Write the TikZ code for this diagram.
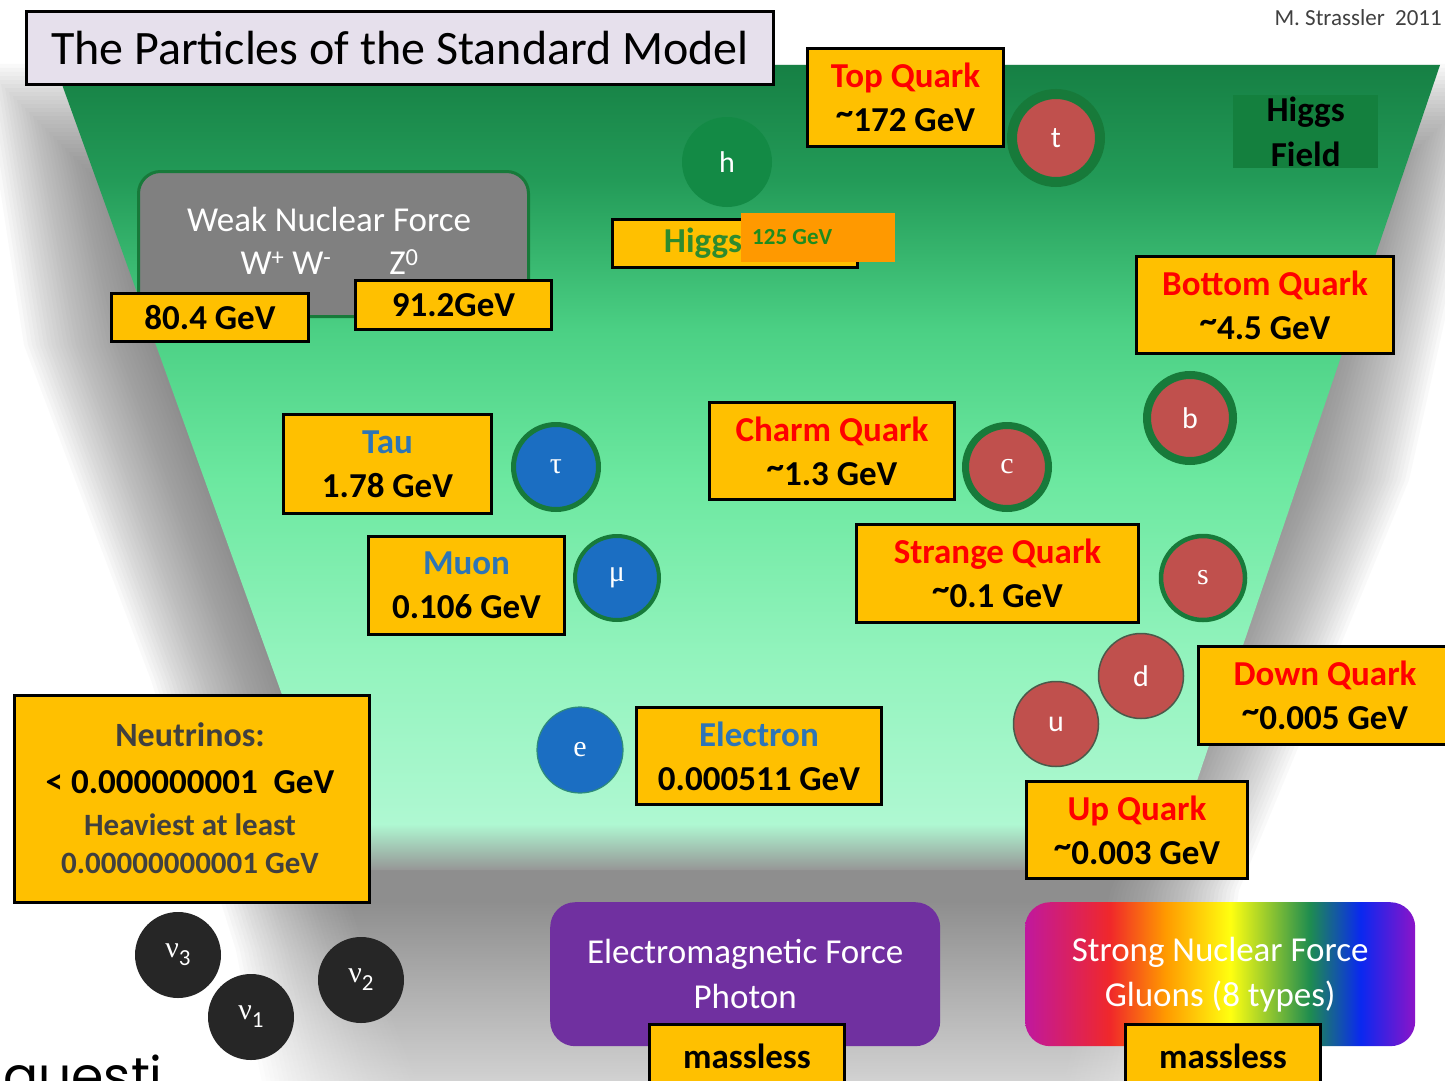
\documentclass[tikz,border=0pt]{standalone}
\usepackage{fontspec}
\setmainfont{Carlito}
\newfontfamily\serifp{Liberation Serif}
\newfontfamily\gothic{Poppins}
\usetikzlibrary{fadings}
\definecolor{boxyellow}{HTML}{FFC000}
\definecolor{qred}{HTML}{FF0000}
\definecolor{lepblue}{HTML}{2E75B6}
\definecolor{higgstxt}{HTML}{2E8B2E}
\definecolor{gevgreen}{HTML}{1E8C1E}
\definecolor{orangebox}{HTML}{FF9900}
\definecolor{qkred}{HTML}{C0504D}
\definecolor{ringgreen}{HTML}{177A3A}
\definecolor{lepfill}{HTML}{1B6EC2}
\definecolor{hfill}{HTML}{138A45}
\definecolor{hfgreen}{HTML}{14803E}
\definecolor{nufill}{HTML}{262626}
\definecolor{empurple}{HTML}{7030A0}
\definecolor{weakgray}{HTML}{808080}
\definecolor{titlefill}{HTML}{E6E0EC}
\definecolor{darktxt}{HTML}{404040}
\definecolor{shadowc}{HTML}{6A6A6A}
\definecolor{thinedge}{HTML}{4A5A4A}
\definecolor{eedge}{HTML}{2E8B7A}
\definecolor{gT}{RGB}{22,128,68}
\definecolor{g180}{RGB}{35,155,88}
\definecolor{g330}{RGB}{75,208,132}
\definecolor{g480}{RGB}{108,232,160}
\definecolor{g650}{RGB}{145,243,188}
\definecolor{gB}{RGB}{175,248,210}
\definecolor{grayband}{RGB}{150,150,150}
\definecolor{rbA}{HTML}{C0189E}
\definecolor{rbRed}{HTML}{F0282A}
\definecolor{rbOrange}{HTML}{FF9A00}
\definecolor{rbYellow}{HTML}{FFFF10}
\definecolor{rbGreen}{HTML}{1E8C50}
\definecolor{rbBlue}{HTML}{0A28F0}
\definecolor{rbPurple}{HTML}{8C14C8}
\pgfdeclareverticalshading{greenbg}{100bp}{color(0bp)=(gB); color(25bp)=(gB); color(36.5bp)=(g650); color(47.7bp)=(g480); color(57.6bp)=(g330); color(67.4bp)=(g180); color(75bp)=(gT); color(100bp)=(gT)}
\pgfdeclarehorizontalshading{rainbowsh}{100bp}{color(0bp)=(rbA); color(25bp)=(rbA); color(35.9bp)=(rbRed); color(43bp)=(rbOrange); color(51.3bp)=(rbYellow); color(61.5bp)=(rbGreen); color(68bp)=(rbBlue); color(75bp)=(rbPurple); color(100bp)=(rbPurple)}
\tikzfading[name=fadedown, top color=transparent!100, bottom color=transparent!40]
\newcommand{\tld}{\raisebox{7pt}{\textasciitilde}}
\newcommand{\nusub}[1]{ν\raisebox{-8pt}{\rmfamily\fontsize{23}{23}\selectfont #1}}
\tikzset{
  ybox/.style={draw=black, line width=3pt, fill=boxyellow, inner sep=0pt, align=center, anchor=north west, font=\bfseries\fontsize{35}{44}\selectfont},
  quark/.style={circle, fill=qkred, draw=ringgreen, inner sep=0pt, text=white, font=\fontsize{30}{30}\selectfont},
  lepton/.style={circle, fill=lepfill, draw=ringgreen, inner sep=0pt, text=white, font=\serifp\fontsize{30}{30}\selectfont},
  nu/.style={circle, fill=nufill, minimum size=86, inner sep=0pt, text=white, font=\serifp\fontsize{30}{30}\selectfont},
  forcebox/.style={rounded corners=25pt, minimum width=390, minimum height=144, anchor=north west, align=center, text=white, inner sep=0pt, font=\fontsize{35}{45}\selectfont},
  nutext/.style={anchor=base, inner sep=0pt, font=\bfseries\fontsize{#1}{#1}\selectfont},
}
\begin{document}
\begin{tikzpicture}[x=1pt,y=-1pt]
\useasboundingbox (0,0) rectangle (1445,1081);
\fill[white] (0,0) rectangle (1445,1081);
% soft shadow
\foreach \o in {-64,-60,...,64} {
  \fill[shadowc, opacity=0.036] ({45-\o},{128-\o}) -- ({1438+\o},{128-\o}) -- ({1345+\o},480) -- ({1175+\o},890) -- ({1130+\o},{1140+\o}) -- ({350-\o},{1140+\o}) -- ({300-\o},950) -- ({215-\o},680) -- ({88-\o},345) -- cycle;
}
% green field
\shade[shading=greenbg] (55,65) -- (1440,65) -- (1182,825) -- (329,825) -- cycle;
\shade[top color=gB, bottom color=grayband] (329,824) -- (1182,824) -- (1167,870) -- (345,870) -- cycle;
\fill[white, path fading=fadedown] (0,900) rectangle (1445,1081);

% title and author
\node[draw=black, line width=3pt, fill=titlefill, minimum width=747, minimum height=73, anchor=north west, inner sep=0pt, font=\fontsize{48}{48}\selectfont] (title) at (25,10) {The Particles of the Standard Model};
\node[anchor=north east, inner sep=0pt, text=darktxt, font=\fontsize{23}{23}\selectfont] (author) at (1442,9) {M. Strassler\ \ 2011};

% Higgs field
\node[fill=hfgreen, minimum width=145, minimum height=73, anchor=north west, inner sep=0pt, align=center, font=\bfseries\fontsize{35}{45}\selectfont] (hfield) at (1233,95) {Higgs\\Field};

% weak force
\node[draw=ringgreen, line width=3pt, fill=weakgray, rounded corners=22pt, minimum width=390, minimum height=145, anchor=north west, inner sep=0pt] (weak) at (137,170) {};
\node[text=white, inner sep=0pt, font=\fontsize{35}{35}\selectfont] (weakname) at (329,219) {Weak Nuclear Force};
\node[text=white, inner sep=0pt, font=\fontsize{35}{35}\selectfont] (wpm) at (286,263) {W\textsuperscript{+} W\textsuperscript{-}};
\node[text=white, inner sep=0pt, font=\fontsize{35}{35}\selectfont] (zzero) at (404,262) {Z\textsuperscript{0}};
\node[ybox, minimum width=197, minimum height=48] (wmass) at (110,292) {80.4 GeV};
\node[ybox, minimum width=196, minimum height=49] (zmass) at (354,279) {91.2GeV};

% Higgs boson
\node[circle, fill=hfill, minimum size=90, inner sep=0pt, text=white, font=\fontsize{30}{30}\selectfont] (h) at (727,162) {h};
\node[ybox, minimum width=245, minimum height=48] (higgsbox) at (611,218) {};
\node[inner sep=0pt, text=higgstxt, font=\bfseries\fontsize{35}{35}\selectfont] (higgsname) at (703,243) {Higgs};
\node[fill=orangebox, minimum width=154, minimum height=49, anchor=north west, inner sep=0pt] (higgsmassbg) at (741,213) {};
\node[anchor=west, inner sep=0pt, text=gevgreen, font=\bfseries\fontsize{23}{23}\selectfont] (higgsmass) at (752,237) {125 GeV};

% quarks
\node[ybox, minimum width=196, minimum height=98] (topbox) at (806,47) {\textcolor{qred}{Top Quark}\\\tld172 GeV};
\node[quark, minimum size=88, line width=10pt] (t) at (1056,138) {t};
\node[ybox, minimum width=257, minimum height=97] (bottombox) at (1135,255) {\textcolor{qred}{Bottom Quark}\\\tld4.5 GeV};
\node[quark, minimum size=86, line width=8pt] (b) at (1190,418) {b};
\node[ybox, minimum width=245, minimum height=97] (charmbox) at (708,401) {\textcolor{qred}{Charm Quark}\\\tld1.3 GeV};
\node[quark, minimum size=83, line width=7pt, font=\serifp\fontsize{30}{30}\selectfont] (c) at (1007,467) {c};
\node[ybox, minimum width=282, minimum height=98] (strangebox) at (855,523) {\textcolor{qred}{Strange Quark}\\\tld0.1 GeV};
\node[quark, minimum size=84, line width=4.5pt, font=\serifp\fontsize{30}{30}\selectfont] (s) at (1203,578) {s};
\node[ybox, minimum width=253, minimum height=98] (downbox) at (1197,645) {\textcolor{qred}{Down Quark}\\\tld0.005 GeV};
\node[quark, draw=thinedge, minimum size=85, line width=1.5pt] (d) at (1141,676) {d};
\node[quark, draw=thinedge, minimum size=85, line width=1.5pt] (u) at (1056,724) {u};
\node[ybox, minimum width=221, minimum height=97] (upbox) at (1025,780) {\textcolor{qred}{Up Quark}\\\tld0.003 GeV};

% leptons
\node[ybox, minimum width=208, minimum height=99] (taubox) at (282,413) {\textcolor{lepblue}{Tau}\\1.78 GeV};
\node[lepton, minimum size=85, line width=5pt] (tau) at (556,467) {τ};
\node[ybox, minimum width=196, minimum height=98] (muonbox) at (367,535) {\textcolor{lepblue}{Muon}\\0.106 GeV};
\node[lepton, minimum size=84, line width=4pt] (mu) at (617,578) {μ};
\node[lepton, draw=eedge, minimum size=86, line width=1.2pt] (e) at (580,750) {e};
\node[ybox, minimum width=245, minimum height=97] (electronbox) at (635,706) {\textcolor{lepblue}{Electron}\\0.000511 GeV};

% neutrinos
\node[ybox, minimum width=355, minimum height=207] (nubox) at (13,694) {};
\node[nutext=34, text=darktxt] (nuname) at (190,746) {Neutrinos:};
\node[nutext=35] (nulimit) at (190,793) {< 0.000000001\ \ GeV};
\node[nutext=31, text=darktxt] (nuheavy) at (190,835) {Heaviest at least};
\node[nutext=31, text=darktxt] (numin) at (190,873) {0.00000000001 GeV};
\node[nu] (nu3) at (178,955) {\nusub{3}};
\node[nu] (nu1) at (251,1017) {\nusub{1}};
\node[nu] (nu2) at (361,980) {\nusub{2}};

% massless forces
\node[forcebox, fill=empurple] (em) at (550,902) {Electromagnetic Force\\Photon};
\node[ybox, minimum width=195, minimum height=64] (emmass) at (648,1023) {massless};
\node[forcebox, shade, shading=rainbowsh] (strong) at (1025,902) {Strong Nuclear Force\\Gluons (8 types)};
\node[ybox, minimum width=195, minimum height=64] (strongmass) at (1124,1023) {massless};

\node[anchor=base west, inner sep=0pt, font=\gothic\fontsize{52}{52}\selectfont] (questi) at (3,1094) {questi};
\end{tikzpicture}
\end{document}
